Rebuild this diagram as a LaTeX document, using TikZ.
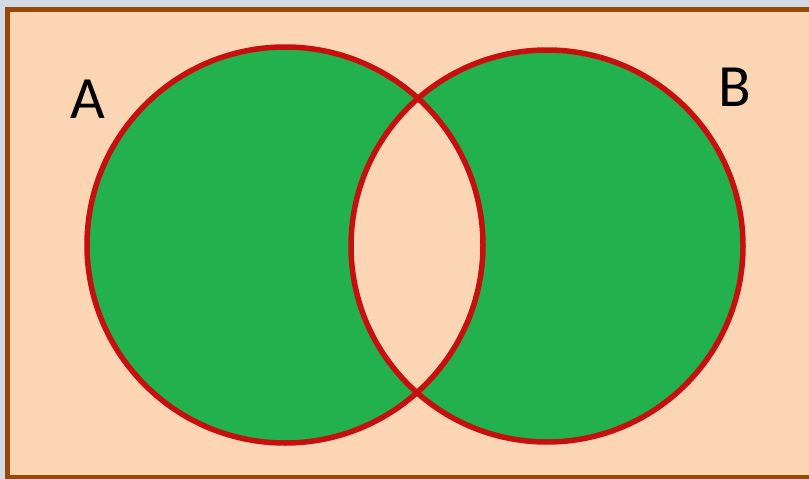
\documentclass[tikz,border=0pt]{standalone}
\usepackage{fontspec}
\setmainfont{Carlito}
\definecolor{outside}{HTML}{D3DAE6}
\definecolor{peach}{HTML}{FCD5B4}
\definecolor{framebrown}{HTML}{984807}
\definecolor{setgreen}{HTML}{22B14C}
\definecolor{setred}{HTML}{C80F0F}
\tikzset{
  setline/.style={draw=setred, line width=5.5pt},
  setlabel/.style={font=\fontsize{60}{60}\selectfont, text=black, inner sep=0pt, anchor=center}
}
\begin{document}
\begin{tikzpicture}[x=1pt,y=-1pt]
\useasboundingbox (0,0) rectangle (809,479);
\fill[outside] (0,0) rectangle (809,479);
\fill[peach, draw=framebrown, line width=5pt] (7.5,9) rectangle (815,477.5);
\coordinate (ca) at (285,245);
\coordinate (cb) at (547,246);
\fill[setgreen] (ca) circle (198);
\fill[setgreen] (cb) circle (196);
\begin{scope}
  \clip (ca) circle (198);
  \fill[peach] (cb) circle (196);
\end{scope}
\draw[setline] (ca) circle (198);
\draw[setline] (cb) circle (196);
\node[setlabel] (la) at (88,99) {A};
\node[setlabel] (lb) at (735,87) {B};
\end{tikzpicture}
\end{document}
